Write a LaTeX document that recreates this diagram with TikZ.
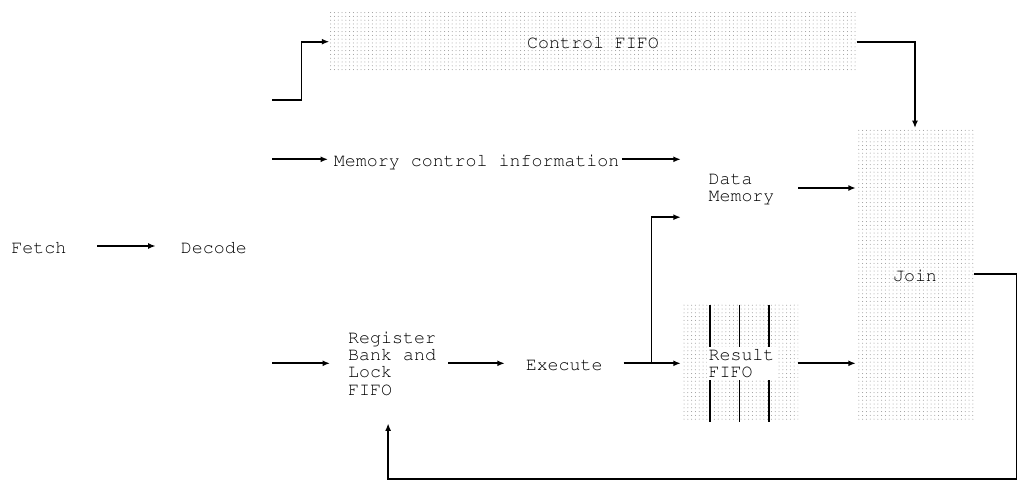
\documentclass[tikz,border=0pt]{standalone}
\usepackage[T1]{fontenc}
\usetikzlibrary{arrows.meta,patterns.meta,calc}
\newcommand\dfont{\fontfamily{pcr}\fontsize{18.3}{17.33}\selectfont}
\tikzdeclarepattern{
  name=fdots,
  type=uncolored,
  bounding box={(-1pt,-1pt) and (1pt,1pt)},
  tile size={(3.8pt,3.8pt)},
  code={\fill (0pt,0pt) circle (0.5pt);}
}
\tikzset{
  lbl/.style={font=\dfont, inner sep=0pt, text height=14pt, text depth=0pt},
  mlbl/.style={font=\dfont, inner sep=0pt, align=left, text depth=0pt},
  fifo/.style={pattern=fdots, pattern color=black!42, inner sep=0pt, font=\dfont, text height=14pt, text depth=0pt},
  arr/.style={-{Latex[length=7.5pt,width=6pt]}, line width=1.7pt},
  ln/.style={line width=1.7pt}
}
\begin{document}
\begin{tikzpicture}[x=1pt,y=-1pt]
\useasboundingbox (0,0) rectangle (1018,480);
% nodes
\node[lbl] (fetch) at (38.8,246) {Fetch};
\node[lbl] (decode) at (213.8,246) {Decode};
\node[fifo, minimum width=527pt, minimum height=60pt] (cfifo) at (593,41.7) {Control FIFO};
\node[fifo, minimum width=118pt, minimum height=292pt] (join) at (915,274.3) {Join};
\node[lbl] (mci) at (476.7,159.3) {Memory control information};
\node[mlbl, minimum width=117pt, minimum height=58pt] (dmem) at (741.5,188) {Data\\Memory};
\node[mlbl, anchor=west] (reg) at (348,363.3) {Register\\Bank and\\Lock\\FIFO};
\node[lbl] (exec) at (564.2,363.3) {Execute};
\node[fifo, minimum width=117pt, minimum height=117pt] (rfifo) at (739.5,363.3) {};
\foreach \i in {1,2,3}
  \draw[ln] ($(rfifo.north west)!\i/4!(rfifo.north east)$) -- ($(rfifo.south west)!\i/4!(rfifo.south east)$);
\node[mlbl, fill=white, inner sep=2pt] (rtext) at ([xshift=2pt]rfifo.center) {Result\\FIFO};
% free ends
\coordinate (in1) at (272,100);
\coordinate (in2) at (272,159.3);
\coordinate (in3) at (272,363.3);
\coordinate (loop) at (1016.5,479);
% connectors
\draw[arr, shorten <=31pt, shorten >=25pt] (fetch) -- (decode);
\draw[arr] (in1) -- ++(29.5,0) |- (cfifo.west);
\draw[arr, shorten >=5.7pt] (in2) -- (mci.west);
\draw[arr, shorten <=2.3pt, shorten >=2pt] (mci.east) -- (mci.east -| dmem.west);
\draw[arr, shorten >=18pt] (in3) -- (reg.west);
\draw[arr, shorten <=12pt, shorten >=20.8pt] (reg.east) -- (exec.west);
\draw[arr, shorten <=20.7pt] (exec.east) -- (exec.east -| rfifo.west);
\draw[arr, shorten >=2pt] ([xshift=-29.3pt]exec.east -| rfifo.west) |- (dmem.south west);
\draw[arr] ([xshift=-2pt]dmem.east) -- (dmem.east -| join.west);
\draw[arr] (rfifo.east) -- (rfifo.east -| join.west);
\draw[arr] (cfifo.east) -| (join.north);
\draw[arr, shorten >=28pt] (join.east) -| (loop) -| ([xshift=-4pt]reg.south);
\end{tikzpicture}
\end{document}
